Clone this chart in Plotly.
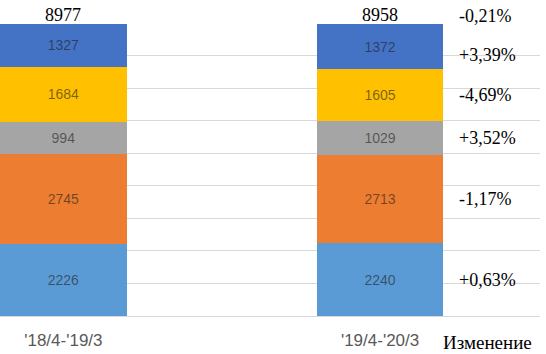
import plotly.graph_objects as go

periods = ["'18/4-'19/3", "'19/4-'20/3"]
series_names = ["Сегмент 1", "Сегмент 2", "Сегмент 3", "Сегмент 4", "Сегмент 5"]
# bottom to top
seg1 = [2226, 2240]
seg2 = [2745, 2713]
seg3 = [994, 1029]
seg4 = [1684, 1605]
seg5 = [1327, 1372]
totals = [8977, 8958]
# change labels
change_total = "-0,21%"
change_labels = ["+0,63%", "-1,17%", "+3,52%", "-4,69%", "+3,39%"]  # bottom to top
change_title = "Изменение"

colors = ["#5B9BD5", "#ED7D31", "#A5A5A5", "#FFC000", "#4472C4"]
all_series = [seg1, seg2, seg3, seg4, seg5]

x_pos = [0, 1]
fig = go.Figure()
for name, vals, col in zip(series_names, all_series, colors):
    fig.add_trace(go.Bar(
        x=x_pos, y=vals, name=name, width=0.4,
        marker=dict(color=col, line=dict(width=0)),
        text=[str(v) for v in vals], textposition="inside",
        insidetextanchor="middle", textangle=0, constraintext="none",
        textfont=dict(family="Liberation Sans", size=14, color="rgba(30,30,30,0.6)"),
        hoverinfo="skip",
    ))

annotations = []
for xi, t in zip(x_pos, totals):
    annotations.append(dict(
        x=xi, y=t, xref="x", yref="y", text=str(t), showarrow=False,
        yanchor="bottom", yshift=-3,
        font=dict(family="Liberation Serif", size=18, color="#000000"),
    ))

second = [s[1] for s in all_series]
cum = 0
centers = []
for v in second:
    centers.append(cum + v / 2)
    cum += v
shifts = [0, 0, 0, 0, -8]
for c, lab, sh in zip(centers, change_labels, shifts):
    annotations.append(dict(
        x=457 / 540, xref="paper", y=c, yref="y", text=lab, showarrow=False,
        xanchor="left", yanchor="middle", yshift=sh,
        font=dict(family="Liberation Serif", size=18, color="#000000"),
    ))
annotations.append(dict(
    x=457 / 540, xref="paper", y=totals[1], yref="y", text=change_total, showarrow=False,
    xanchor="left", yanchor="bottom", yshift=-4,
    font=dict(family="Liberation Serif", size=18, color="#000000"),
))
annotations.append(dict(
    x=441 / 540, xref="paper", y=-0.092, yref="paper", text=change_title, showarrow=False,
    xanchor="left", yanchor="middle",
    font=dict(family="Liberation Serif", size=19, color="#000000"),
))

fig.update_layout(
    barmode="stack",
    width=546, height=354,
    margin=dict(l=0, r=6, t=23, b=38),
    paper_bgcolor="white", plot_bgcolor="white",
    showlegend=False,
    annotations=annotations,
    xaxis=dict(
        range=[-0.2, 1.505], tickvals=x_pos, ticktext=periods,
        showgrid=False, zeroline=False, showline=False,
        ticks="outside", ticklen=9, tickcolor="rgba(0,0,0,0)",
        tickfont=dict(family="Liberation Sans", size=17, color="#595959"),
    ),
    yaxis=dict(
        range=[0, 9000], dtick=1000, showticklabels=False,
        showgrid=True, gridcolor="#D9D9D9", gridwidth=1,
        zeroline=True, zerolinecolor="#D9D9D9", zerolinewidth=1,
        showline=False,
    ),
)

fig.write_html(
    "out.html",
    config={"displayModeBar": False},
    post_script="document.body.style.margin='0';document.body.style.overflow='hidden';",
)
